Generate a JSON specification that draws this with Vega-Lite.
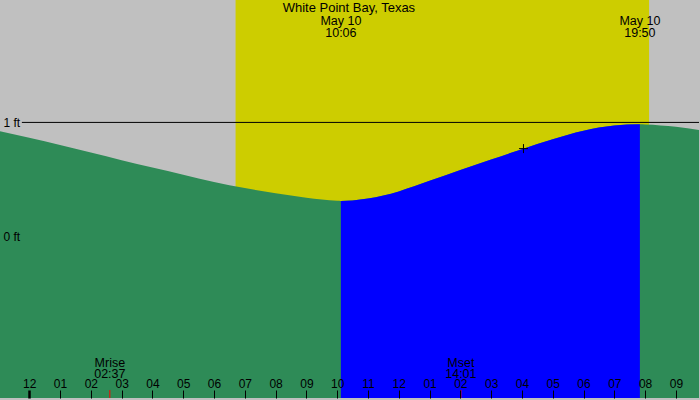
{
  "$schema": "https://vega.github.io/schema/vega-lite/v6.json",
  "width": 700,
  "height": 400,
  "autosize": {"type": "fit", "contains": "padding"},
  "padding": 0,
  "background": "#c0c0c0",
  "config": {"view": {"stroke": null}, "font": "Liberation Sans"},
  "datasets": {
    "tide": [
      {"h": -1, "ft": 0.926, "rising": false},
      {"h": 0, "ft": 0.865, "rising": false},
      {"h": 1, "ft": 0.802, "rising": false},
      {"h": 2, "ft": 0.737, "rising": false},
      {"h": 3, "ft": 0.670, "rising": false},
      {"h": 4, "ft": 0.606, "rising": false},
      {"h": 5, "ft": 0.543, "rising": false},
      {"h": 6, "ft": 0.480, "rising": false},
      {"h": 7, "ft": 0.426, "rising": false},
      {"h": 8, "ft": 0.380, "rising": false},
      {"h": 9, "ft": 0.342, "rising": false},
      {"h": 9.5, "ft": 0.326, "rising": false},
      {"h": 10, "ft": 0.315, "rising": false},
      {"h": 10.12, "ft": 0.314, "rising": true},
      {"h": 10.5, "ft": 0.318, "rising": true},
      {"h": 11, "ft": 0.334, "rising": true},
      {"h": 11.5, "ft": 0.361, "rising": true},
      {"h": 12, "ft": 0.397, "rising": true},
      {"h": 13, "ft": 0.489, "rising": true},
      {"h": 14, "ft": 0.584, "rising": true},
      {"h": 15, "ft": 0.676, "rising": true},
      {"h": 16, "ft": 0.766, "rising": true},
      {"h": 17, "ft": 0.853, "rising": true},
      {"h": 18, "ft": 0.927, "rising": true},
      {"h": 19, "ft": 0.973, "rising": true},
      {"h": 19.83, "ft": 0.983, "rising": true},
      {"h": 20, "ft": 0.982, "rising": false},
      {"h": 21, "ft": 0.961, "rising": false},
      {"h": 22, "ft": 0.922, "rising": false}
    ],
    "daylight": [{"start": 6.7, "end": 20.13}],
    "place": [{"h": 10.38, "label": "White Point Bay, Texas"}],
    "tides": [
      {"h": 10.12, "label": "May 10\n10:06"},
      {"h": 19.83, "label": "May 10\n19:50"}
    ],
    "moon": [
      {"h": 2.617, "label": "Mrise\n02:37"},
      {"h": 14.017, "label": "Mset\n14:01"}
    ],
    "now": [{"h": 16.05, "ft": 0.771}]
  },
  "layer": [
    {
      "data": {"name": "daylight"},
      "mark": {"type": "rect", "color": "#cdcd00"},
      "encoding": {
        "x": {
          "field": "start",
          "type": "quantitative",
          "scale": {"domain": [-0.95, 21.75], "nice": false, "zero": false},
          "axis": {
            "values": [0, 1, 2, 3, 4, 5, 6, 7, 8, 9, 10, 11, 12, 13, 14, 15, 16, 17, 18, 19, 20, 21],
            "tickCount": 40,
            "labelExpr": "datum.value % 12 == 0 ? '12' : (datum.value % 12 < 10 ? '0' + (datum.value % 12) : '' + (datum.value % 12))",
            "tickSize": -8,
            "labelPadding": -7,
            "labelBaseline": "middle",
            "domain": false,
            "grid": false,
            "title": null,
            "labelFont": "Liberation Sans",
            "labelFontSize": 12,
            "labelColor": "black",
            "tickColor": "black",
            "tickWidth": {"condition": {"test": "datum.value == 0", "value": 2.5}, "value": 1},
            "labelOverlap": false,
            "labelFlush": false,
            "labelBound": false,
            "zindex": 2
          }
        },
        "x2": {"field": "end"}
      }
    },
    {
      "data": {"name": "tide"},
      "mark": {"type": "area", "color": "#2e8b57", "interpolate": "monotone", "clip": true},
      "encoding": {
        "x": {"field": "h", "type": "quantitative"},
        "y": {
          "field": "ft",
          "type": "quantitative",
          "scale": {"domain": [-1.409, 2.07], "nice": false, "zero": false},
          "axis": {
            "values": [0, 1],
            "labelExpr": "datum.value + ' ft'",
            "ticks": false,
            "tickSize": 0,
            "domain": false,
            "grid": false,
            "title": null,
            "labelAlign": "left",
            "labelPadding": -3,
            "labelBaseline": "middle",
            "labelFont": "Liberation Sans",
            "labelFontSize": 12,
            "labelColor": "black",
            "zindex": 2
          }
        },
        "y2": {"datum": -1.409}
      }
    },
    {
      "data": {"name": "tide"},
      "transform": [{"filter": "datum.rising"}],
      "mark": {"type": "area", "color": "#0000ff", "interpolate": "monotone", "clip": true},
      "encoding": {
        "x": {"field": "h", "type": "quantitative"},
        "y": {"field": "ft", "type": "quantitative"},
        "y2": {"datum": -1.409}
      }
    },
    {
      "data": {"values": [{}]},
      "mark": {"type": "rule", "color": "black", "strokeWidth": 1},
      "encoding": {
        "x": {"datum": -0.24},
        "x2": {"datum": 21.75},
        "y": {"datum": 1}
      }
    },
    {
      "data": {"name": "place"},
      "mark": {"type": "text", "align": "center", "baseline": "middle", "fontSize": 13, "color": "black"},
      "encoding": {
        "x": {"field": "h", "type": "quantitative"},
        "y": {"datum": 2.0},
        "text": {"field": "label"}
      }
    },
    {
      "data": {"name": "tides"},
      "mark": {"type": "text", "align": "center", "baseline": "middle", "lineBreak": "\n", "lineHeight": 11.5, "fontSize": 12.5, "color": "black"},
      "encoding": {
        "x": {"field": "h", "type": "quantitative"},
        "y": {"datum": 1.883},
        "text": {"field": "label"}
      }
    },
    {
      "data": {"name": "moon"},
      "mark": {"type": "text", "align": "center", "baseline": "middle", "lineBreak": "\n", "lineHeight": 11.5, "fontSize": 12.5, "color": "black"},
      "encoding": {
        "x": {"field": "h", "type": "quantitative"},
        "y": {"datum": -1.1},
        "text": {"field": "label"}
      }
    },
    {
      "data": {"name": "moon"},
      "mark": {"type": "rule", "color": "red", "strokeWidth": 1},
      "encoding": {
        "x": {"field": "h", "type": "quantitative"},
        "y": {"datum": -1.409},
        "y2": {"datum": -1.339}
      }
    },
    {
      "data": {"name": "now"},
      "mark": {"type": "point", "shape": "M-1,0L1,0M0,-1L0,1", "size": 81, "filled": false, "stroke": "black", "strokeWidth": 1, "opacity": 1},
      "encoding": {
        "x": {"field": "h", "type": "quantitative"},
        "y": {"field": "ft", "type": "quantitative"}
      }
    }
  ]
}
